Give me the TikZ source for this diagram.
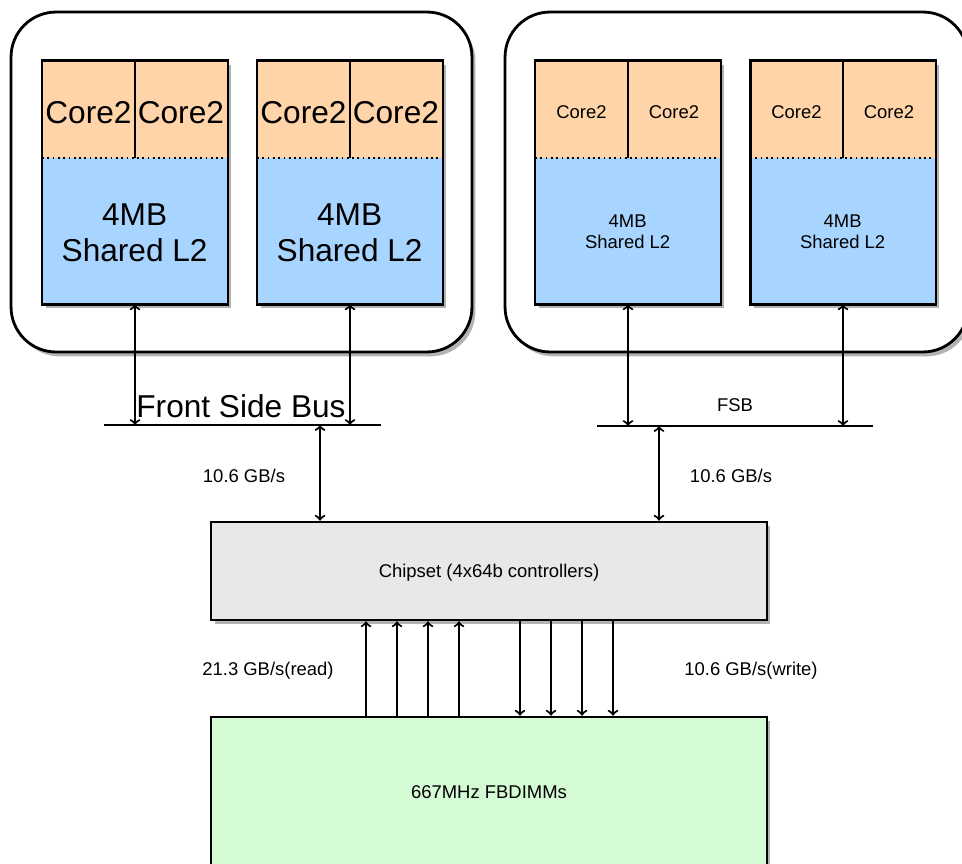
\documentclass[tikz,border=0pt]{standalone}
\usepackage{fontspec}
\setmainfont{Liberation Sans}
\usetikzlibrary{shadows}
\usetikzlibrary{positioning}
\definecolor{coretan}{RGB}{255,212,168}
\definecolor{cacheblue}{RGB}{168,213,255}
\definecolor{chipgray}{RGB}{232,232,232}
\definecolor{dimmgreen}{RGB}{212,251,212}
\tikzset{
    package/.style={
           rectangle,
           rounded corners=0.9cm,
           draw=black, line width=1.6pt,
           fill=white,
           drop shadow={opacity=0.6, shadow xshift=2pt, shadow yshift=-2.5pt},
           minimum height=6.8cm,
           },
    chip/.style={
           rectangle,
           fill=cacheblue,
           drop shadow={opacity=0.6, shadow xshift=2pt, shadow yshift=-2.5pt},
           minimum width=3.7cm,
           minimum height=4.86cm,
           },
    chipedge/.style={draw=black, line width=1.5pt},
    core/.style={
           rectangle,
           fill=coretan,
           inner sep=0pt, outer sep=0pt,
           minimum width=1.85cm,
           minimum height=1.94cm,
           text depth=0pt,
           },
    cache/.style={
           rectangle,
           inner sep=0pt, outer sep=0pt,
           minimum width=3.7cm,
           minimum height=2.92cm,
           align=center,
           },
    hub/.style={
           rectangle,
           draw=black, line width=1.5pt,
           drop shadow={opacity=0.6, shadow xshift=2pt, shadow yshift=-2.5pt},
           minimum width=11.12cm,
           text centered,
           text depth=0pt,
           smalltext,
           },
    divider/.style={draw=black, line width=1pt},
    bus/.style={draw=black, line width=1pt},
    link/.style={<->, >=to, line width=1.2pt},
    flow/.style={->, >=to, line width=1.2pt},
    bigtext/.style={font=\fontsize{18}{20.5}\selectfont},
    smalltext/.style={font=\fontsize{10.5}{12}\selectfont},
    rate/.style={smalltext, inner sep=0pt},
}

\begin{document}
\begin{tikzpicture}[x=0.02cm, y=-0.02cm]
  \useasboundingbox (0,0) rectangle (962,863);

  % the two packages (rounded frames)
  \node[package, minimum width=9.22cm] (PKGL) at (241.5,182) {};
  \node[package, minimum width=9.26cm] (PKGR) at (736.5,182) {};

  % left package, first chip
  \node[chip] (CHIPA) at (135,182.5) {};
  \node[core, bigtext, text height=16.5pt, anchor=north west] (COREA1) at (CHIPA.north west) {Core2};
  \node[core, bigtext, text height=16.5pt, right=0pt of COREA1] (COREA2) {Core2};
  \node[cache, bigtext, yshift=-0.05cm, below=0pt of COREA1.south east] (L2A) {4MB\\Shared L2};
  \draw[divider] (COREA1.north east) -- (COREA1.south east);
  \draw[divider, dotted] (COREA1.south west) -- (COREA2.south east);
  \draw[chipedge] (CHIPA.north west) rectangle (CHIPA.south east);

  % left package, second chip
  \node[chip] (CHIPB) at (350,182.5) {};
  \node[core, bigtext, text height=16.5pt, anchor=north west] (COREB1) at (CHIPB.north west) {Core2};
  \node[core, bigtext, text height=16.5pt, right=0pt of COREB1] (COREB2) {Core2};
  \node[cache, bigtext, yshift=-0.05cm, below=0pt of COREB1.south east] (L2B) {4MB\\Shared L2};
  \draw[divider] (COREB1.north east) -- (COREB1.south east);
  \draw[divider, dotted] (COREB1.south west) -- (COREB2.south east);
  \draw[chipedge] (CHIPB.north west) rectangle (CHIPB.south east);

  % right package, first chip
  \node[chip] (CHIPC) at (628,182.5) {};
  \node[core, smalltext, text height=11pt, anchor=north west] (COREC1) at (CHIPC.north west) {Core2};
  \node[core, smalltext, text height=11pt, right=0pt of COREC1] (COREC2) {Core2};
  \node[cache, smalltext, yshift=-0.03cm, below=0pt of COREC1.south east] (L2C) {4MB\\Shared L2};
  \draw[divider] (COREC1.north east) -- (COREC1.south east);
  \draw[divider, dotted] (COREC1.south west) -- (COREC2.south east);
  \draw[chipedge] (CHIPC.north west) rectangle (CHIPC.south east);

  % right package, second chip
  \node[chip] (CHIPD) at (843,182.5) {};
  \node[core, smalltext, text height=11pt, anchor=north west] (CORED1) at (CHIPD.north west) {Core2};
  \node[core, smalltext, text height=11pt, right=0pt of CORED1] (CORED2) {Core2};
  \node[cache, smalltext, yshift=-0.03cm, below=0pt of CORED1.south east] (L2D) {4MB\\Shared L2};
  \draw[divider] (CORED1.north east) -- (CORED1.south east);
  \draw[divider, dotted] (CORED1.south west) -- (CORED2.south east);
  \draw[chipedge] (CHIPD.north west) rectangle (CHIPD.south east);

  % front side buses
  \coordinate (FSBL-W) at (104,425);
  \coordinate (FSBL-E) at (381,425);
  \coordinate (FSBL-T) at (320,425);
  \coordinate (FSBR-W) at (597,426);
  \coordinate (FSBR-E) at (873,426);
  \coordinate (FSBR-T) at (659,426);
  \draw[bus] (FSBL-W) -- (FSBL-E);
  \draw[bus] (FSBR-W) -- (FSBR-E);
  \node[bigtext, anchor=base] (FSBL) at (241,417) {Front Side Bus};
  \node[smalltext, anchor=base] (FSBR) at (735,411) {FSB};

  % chipset and memory
  \node[hub, fill=chipgray, minimum height=1.96cm] (CHIPSET) at (489,571) {Chipset (4x64b controllers)};
  \node[hub, fill=dimmgreen, minimum height=3cm] (DIMM) at (489,792) {667MHz FBDIMMs};

  % bandwidth labels
  \node[rate] (RATEL) at (244,476) {10.6 GB/s};
  \node[rate] (RATER) at (731,476) {10.6 GB/s};
  \node[rate] (RATERD) at (268,671) {21.3 GB/s(read)};
  \node[rate] (RATEWR) at (751,671) {10.6 GB/s(write)};

  % memory channels
  \coordinate (RD1) at (366,0);
  \coordinate (RD2) at (397,0);
  \coordinate (RD3) at (428,0);
  \coordinate (RD4) at (459,0);
  \coordinate (WR1) at (520,0);
  \coordinate (WR2) at (551,0);
  \coordinate (WR3) at (582,0);
  \coordinate (WR4) at (613,0);

  % draw the links
  \path[link]
  (CHIPA.south) edge (CHIPA.south |- FSBL-W)
  (CHIPB.south) edge (CHIPB.south |- FSBL-W)
  (CHIPC.south) edge (CHIPC.south |- FSBR-W)
  (CHIPD.south) edge (CHIPD.south |- FSBR-W)
  (FSBL-T) edge (FSBL-T |- CHIPSET.north)
  (FSBR-T) edge (FSBR-T |- CHIPSET.north)
  ;
  \path[flow]
  (RD1 |- DIMM.north) edge (RD1 |- CHIPSET.south)
  (RD2 |- DIMM.north) edge (RD2 |- CHIPSET.south)
  (RD3 |- DIMM.north) edge (RD3 |- CHIPSET.south)
  (RD4 |- DIMM.north) edge (RD4 |- CHIPSET.south)
  (WR1 |- CHIPSET.south) edge (WR1 |- DIMM.north)
  (WR2 |- CHIPSET.south) edge (WR2 |- DIMM.north)
  (WR3 |- CHIPSET.south) edge (WR3 |- DIMM.north)
  (WR4 |- CHIPSET.south) edge (WR4 |- DIMM.north)
  ;
\end{tikzpicture}
\end{document}
